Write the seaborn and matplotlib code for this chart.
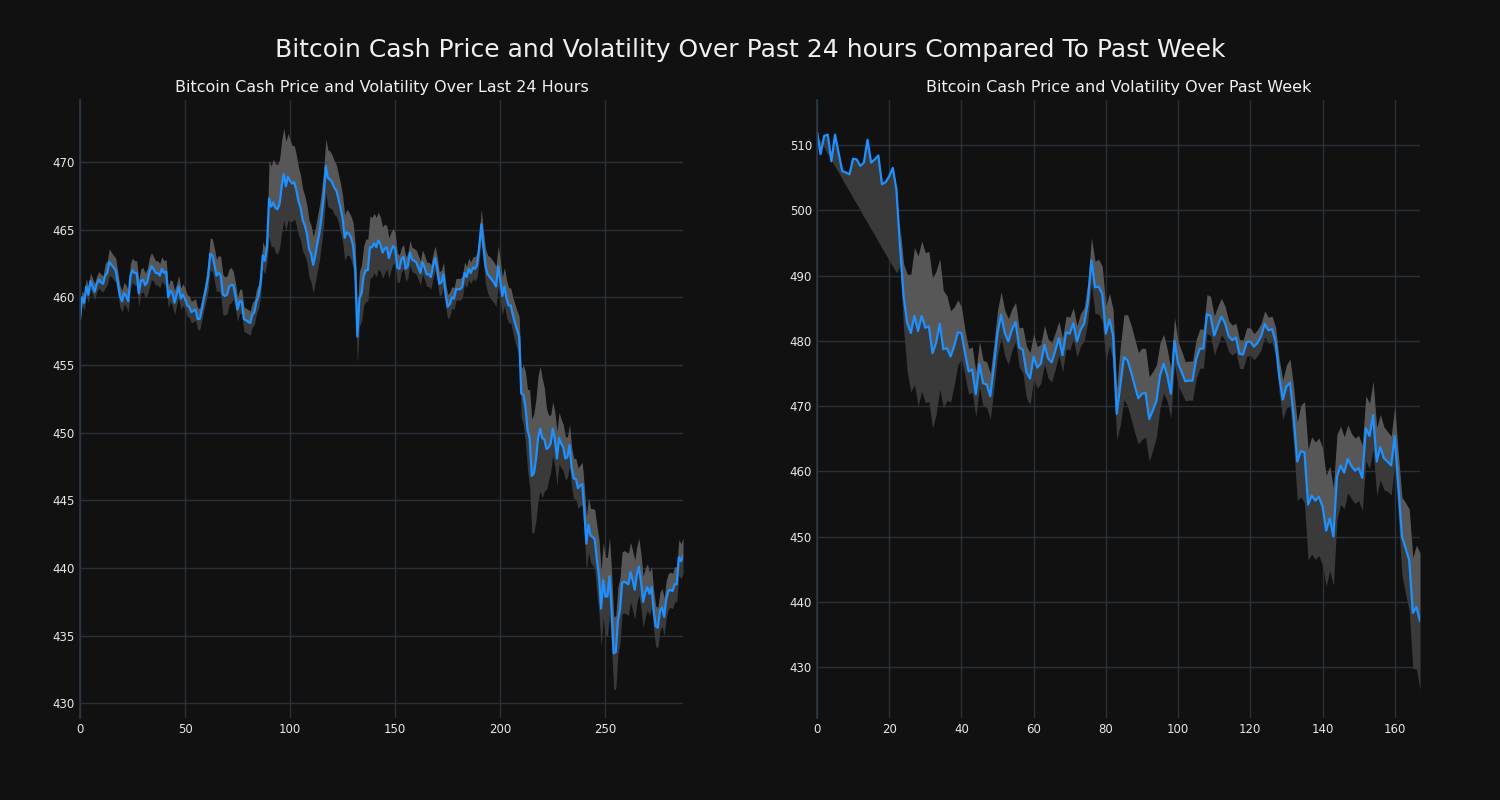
"""Bitcoin Cash price and volatility: last 24 hours vs past week."""

import numpy as np
import matplotlib
matplotlib.use("Agg")
import matplotlib.pyplot as plt
import seaborn as sns

# 5-minute prices over the last 24 hours
day_price = [
    458.4, 460.0, 459.6, 460.8, 460.2, 461.2, 460.8, 460.4, 461.0, 461.3,
    461.1, 461.0, 461.6, 461.8, 462.6, 462.4, 462.2, 462.0, 461.1, 460.1,
    459.7, 460.3, 460.1, 459.7, 461.6, 462.0, 461.8, 461.8, 460.3, 461.2,
    461.3, 460.9, 461.1, 461.8, 462.3, 462.1, 461.8, 461.8, 461.6, 462.1,
    461.8, 461.9, 460.0, 460.5, 460.3, 459.6, 460.2, 460.8, 459.9, 460.2,
    459.9, 459.4, 459.3, 458.9, 459.0, 459.1, 458.4, 458.4, 459.1, 459.9,
    460.6, 461.6, 463.2, 463.1, 462.4, 461.6, 461.8, 461.6, 460.2, 460.1,
    460.2, 460.8, 460.9, 460.9, 460.1, 459.1, 459.7, 459.7, 458.4, 458.3,
    458.2, 458.1, 458.7, 458.9, 459.7, 460.1, 461.1, 463.1, 462.7, 463.7,
    467.3, 466.7, 467.0, 466.6, 466.5, 466.9, 468.2, 469.1, 468.2, 468.9,
    468.6, 468.4, 468.5, 467.9, 467.1, 466.6, 465.7, 465.3, 464.7, 463.6,
    463.2, 462.4, 463.1, 464.0, 464.8, 466.0, 467.4, 469.7, 468.8, 468.7,
    468.5, 468.1, 467.9, 467.3, 466.6, 465.8, 464.4, 464.8, 464.7, 464.4,
    463.8, 462.1, 457.1, 459.9, 460.3, 461.6, 462.0, 462.0, 463.7, 463.7,
    464.0, 463.7, 464.2, 463.9, 463.3, 463.6, 463.7, 462.9, 463.4, 463.8,
    463.6, 462.2, 462.1, 462.8, 463.0, 462.1, 462.3, 463.3, 462.8, 462.7,
    462.6, 462.2, 461.8, 462.6, 462.2, 461.7, 461.7, 461.5, 462.3, 462.9,
    462.1, 461.0, 461.1, 461.7, 460.2, 459.3, 459.5, 460.0, 459.9, 460.6,
    460.6, 460.6, 460.8, 461.8, 461.5, 462.1, 461.8, 462.2, 462.1, 462.4,
    463.7, 465.4, 463.7, 462.3, 461.7, 461.5, 461.3, 461.1, 460.8, 462.3,
    461.3, 460.1, 460.8, 459.9, 459.4, 459.4, 458.7, 458.1, 457.6, 457.1,
    452.9, 452.8, 451.9, 450.2, 449.6, 446.8, 447.0, 448.0, 449.6, 450.3,
    449.6, 449.5, 448.8, 448.9, 449.2, 450.3, 449.5, 448.1, 449.6, 449.2,
    448.9, 448.1, 448.2, 449.1, 447.4, 446.6, 446.6, 445.9, 446.1, 446.2,
    444.3, 441.8, 443.2, 442.4, 442.3, 442.1, 440.6, 439.4, 437.0, 439.1,
    437.9, 437.9, 439.4, 436.9, 433.7, 433.8, 436.1, 436.9, 438.9, 439.0,
    438.9, 438.8, 439.7, 439.1, 438.4, 439.5, 440.1, 439.0, 437.5, 438.2,
    438.6, 438.1, 438.6, 436.9, 435.7, 435.6, 436.8, 437.1, 436.4, 437.7,
    438.3, 438.4, 438.3, 438.8, 438.8, 440.8, 440.5, 440.9,
]

# rolling volatility (half width of the band) for the last 24 hours
day_vol = [
    0.5, 0.5, 0.6, 0.6, 0.6, 0.6, 0.6, 0.6, 0.6, 0.6,
    0.6, 0.6, 0.9, 0.9, 1.0, 0.9, 0.9, 0.9, 0.8, 0.8,
    0.8, 0.8, 0.8, 0.8, 0.9, 0.9, 0.9, 0.9, 1.0, 0.9,
    0.9, 0.9, 1.0, 1.1, 1.0, 0.9, 0.9, 0.9, 0.9, 0.9,
    0.9, 0.9, 0.8, 0.8, 0.9, 0.9, 0.8, 0.8, 0.8, 0.8,
    0.8, 0.8, 0.8, 0.8, 0.8, 0.8, 0.8, 0.8, 0.8, 0.8,
    0.9, 1.1, 1.2, 1.2, 1.2, 1.2, 1.3, 1.4, 1.5, 1.4,
    1.4, 1.3, 1.3, 1.0, 1.0, 0.9, 0.9, 0.9, 0.9, 0.9,
    0.9, 0.9, 0.9, 0.9, 0.9, 0.9, 1.0, 1.0, 1.0, 1.1,
    2.8, 3.0, 3.2, 3.3, 3.3, 3.3, 3.4, 3.4, 3.3, 3.2,
    3.0, 2.8, 2.7, 2.6, 2.5, 2.4, 2.3, 2.2, 2.1, 2.1,
    2.1, 2.1, 2.0, 2.0, 2.0, 2.0, 2.0, 2.0, 2.1, 2.1,
    2.0, 2.0, 1.9, 1.8, 1.8, 1.7, 1.7, 1.7, 1.6, 1.6,
    1.7, 1.8, 2.0, 2.0, 2.1, 2.2, 2.3, 2.3, 2.3, 2.2,
    2.2, 2.2, 2.1, 2.0, 1.9, 1.8, 1.6, 1.5, 1.4, 1.3,
    1.2, 1.1, 1.0, 0.9, 0.9, 0.9, 0.9, 0.9, 0.9, 0.9,
    0.9, 0.9, 0.9, 0.9, 0.9, 0.9, 0.9, 0.9, 0.9, 0.9,
    0.9, 0.9, 0.9, 0.9, 0.9, 0.9, 0.9, 0.8, 0.8, 0.8,
    0.8, 0.8, 0.8, 0.8, 0.8, 0.8, 0.8, 0.8, 0.9, 0.9,
    1.0, 1.1, 1.2, 1.3, 1.4, 1.5, 1.5, 1.5, 1.5, 1.5,
    1.5, 1.4, 1.4, 1.4, 1.3, 1.3, 1.3, 1.4, 1.4, 1.5,
    1.8, 2.2, 2.6, 3.0, 3.6, 4.2, 4.4, 4.5, 4.6, 4.6,
    4.4, 3.8, 3.0, 2.4, 2.1, 2.0, 2.0, 2.0, 1.9, 1.8,
    1.7, 1.6, 1.5, 1.5, 1.5, 1.5, 1.5, 1.5, 1.5, 1.6,
    1.8, 2.0, 2.0, 2.0, 2.1, 2.2, 2.5, 2.7, 2.8, 2.8,
    2.9, 2.9, 2.9, 2.8, 2.7, 2.7, 2.5, 2.4, 2.3, 2.3,
    2.3, 2.3, 2.2, 2.2, 2.2, 2.1, 2.1, 2.0, 1.9, 1.8,
    1.7, 1.6, 1.5, 1.5, 1.5, 1.5, 1.4, 1.4, 1.4, 1.4,
    1.3, 1.3, 1.3, 1.3, 1.3, 1.3, 1.3, 1.3,
]

# hourly prices over the past week
week_price = [
    512.1, 508.6, 511.4, 511.6, 507.5, 511.6, 508.8, 506.0, 505.8, 505.5,
    507.9, 507.8, 506.8, 507.3, 510.8, 507.3, 507.8, 508.4, 504.0, 504.3,
    505.2, 506.5, 503.2, 494.5, 486.8, 482.7, 481.2, 483.8, 481.5, 483.8,
    482.0, 482.2, 478.1, 479.7, 482.6, 478.7, 478.9, 477.6, 479.2, 481.3,
    481.2, 478.1, 475.3, 475.6, 471.8, 476.4, 473.5, 473.3, 471.5, 476.1,
    481.2, 484.0, 481.2, 479.9, 481.7, 482.9, 479.0, 478.6, 475.2, 474.2,
    477.6, 475.9, 476.5, 479.4, 477.3, 476.7, 478.5, 480.4, 477.8, 481.3,
    481.1, 482.7, 479.9, 481.7, 482.6, 485.9, 492.3, 488.2, 488.3, 487.2,
    481.1, 483.3, 480.8, 468.8, 473.1, 477.5, 477.0, 475.2, 473.1, 471.2,
    471.9, 472.0, 468.0, 469.3, 470.8, 474.7, 476.5, 474.7, 471.9, 480.0,
    476.5, 475.2, 473.8, 473.9, 473.9, 477.2, 478.8, 478.8, 484.1, 483.8,
    480.8, 482.3, 483.7, 482.7, 480.7, 480.1, 480.5, 478.0, 477.9, 479.8,
    479.9, 479.1, 479.7, 480.7, 482.6, 481.6, 481.8, 479.9, 474.6, 471.0,
    473.0, 473.6, 468.4, 461.5, 463.1, 462.9, 454.9, 456.3, 455.5, 456.1,
    454.6, 450.9, 452.8, 450.0, 459.2, 460.9, 459.8, 461.9, 460.8, 460.1,
    460.5, 459.0, 466.6, 465.4, 468.6, 461.5, 463.7, 462.0, 461.5, 460.9,
    465.4, 457.7, 450.0, 448.2, 446.4, 438.3, 439.2, 437.0,
]

# rolling volatility for the week (no value until the window fills)
week_vol = [None] * 23 + [
    3.0, 5.0, 7.5, 9.0, 10.5, 11.5, 11.5,
    11.5, 11.5, 11.5, 11.0, 10.0, 9.0, 8.0, 7.0, 6.0, 5.0,
    4.0, 3.5, 3.5, 3.5, 3.5, 3.5, 3.5, 3.5, 3.5, 3.5,
    3.5, 3.5, 3.5, 3.5, 3.2, 3.0, 3.0, 3.5, 4.0, 4.0,
    3.5, 3.2, 3.0, 3.0, 3.0, 3.0, 2.8, 2.6, 2.6, 2.5,
    2.5, 2.4, 2.4, 2.5, 2.5, 3.0, 3.5, 4.0, 4.2, 4.2,
    4.2, 4.0, 4.0, 4.0, 6.0, 6.5, 7.0, 7.2, 7.2, 7.0,
    7.0, 6.8, 6.5, 6.0, 5.5, 5.0, 4.5, 4.0, 3.8, 3.6,
    3.4, 3.2, 3.0, 3.0, 3.0, 3.0, 3.0, 3.0, 3.0, 3.0,
    3.0, 3.0, 2.8, 2.6, 2.4, 2.3, 2.2, 2.2, 2.2, 2.2,
    2.1, 2.0, 2.0, 2.0, 2.0, 2.0, 2.0, 2.2, 2.6, 3.0,
    3.3, 3.6, 4.5, 6.0, 7.0, 7.8, 8.5, 9.0, 9.0, 9.0,
    9.0, 8.5, 8.0, 7.5, 6.5, 6.0, 5.5, 5.2, 5.0, 5.0,
    5.0, 5.0, 5.0, 5.0, 5.2, 5.2, 5.0, 4.8, 4.6, 4.5,
    4.5, 5.0, 6.0, 7.0, 7.8, 8.5, 9.5, 10.5,
]

# lower edge of the week band before the rolling window fills
week_lower_head = [
    511.5, 510.6, 509.6, 508.6, 507.7, 506.7, 505.8, 504.8, 503.8, 502.9,
    501.9, 501.0, 500.0, 499.0, 498.1, 497.1, 496.2, 495.2, 494.2, 493.3,
    492.3, 491.4, 490.4,
]

BG = "#111111"
GRID = "#2a3039"
LIGHT_BAND = "#575757"
DARK_BAND = "#3a3a3a"
LINE = "#1e90ff"


def draw_panel(ax, price, upper, lower, title, xmax, yticks, xticks):
    x = np.arange(len(price))
    ax.fill_between(x, lower, price, color=DARK_BAND, linewidth=0)
    ax.fill_between(x, price, upper, color=LIGHT_BAND, linewidth=0)
    sns.lineplot(x=x, y=price, ax=ax, color=LINE, linewidth=1.6)
    ax.set_xlim(0, xmax)
    ax.set_xticks(xticks)
    ax.set_yticks(yticks)
    ax.set_title(title, color="#f0f0f0", fontsize=11.5, pad=6)
    ax.set_xlabel("")
    ax.set_ylabel("")
    ax.tick_params(colors="#e8e8e8", labelsize=8.5, length=0)
    for side in ["top", "right", "bottom"]:
        ax.spines[side].set_visible(False)
    ax.spines["left"].set_color("#2c3848")
    ax.spines["left"].set_linewidth(1.2)


def main():
    sns.set_theme(style="darkgrid", rc={
        "figure.facecolor": BG,
        "axes.facecolor": BG,
        "grid.color": GRID,
        "grid.linewidth": 1.0,
        "axes.edgecolor": BG,
    })
    plt.rcParams["font.family"] = ["DejaVu Sans"]

    day_p = np.array(day_price, dtype=float)
    day_v = np.array(day_vol, dtype=float)
    week_p = np.array(week_price, dtype=float)
    week_v = np.array(week_vol, dtype=float)

    day_upper = day_p + day_v
    day_lower = day_p - day_v
    week_upper = week_p + week_v
    week_lower = np.concatenate([week_lower_head, week_p[23:] - week_v[23:]])

    fig, (ax1, ax2) = plt.subplots(1, 2, figsize=(15, 8), dpi=100)
    fig.subplots_adjust(left=0.0533, right=0.9467, top=0.875, bottom=0.1025, wspace=0.222)

    draw_panel(ax1, day_p, day_upper, day_lower,
               "Bitcoin Cash Price and Volatility Over Last 24 Hours",
               len(day_p) - 1, np.arange(430, 471, 5), np.arange(0, 251, 50))
    draw_panel(ax2, week_p, week_upper, week_lower,
               "Bitcoin Cash Price and Volatility Over Past Week",
               len(week_p) - 1, np.arange(430, 511, 10), np.arange(0, 161, 20))
    ax2.set_ylim(422.2, 516.9)

    fig.suptitle("Bitcoin Cash Price and Volatility Over Past 24 hours Compared To Past Week",
                 color="#f0f0f0", fontsize=18, y=0.9375, va="center")

    plt.savefig("out.png", facecolor=BG)
    plt.close()


if __name__ == "__main__":
    main()
